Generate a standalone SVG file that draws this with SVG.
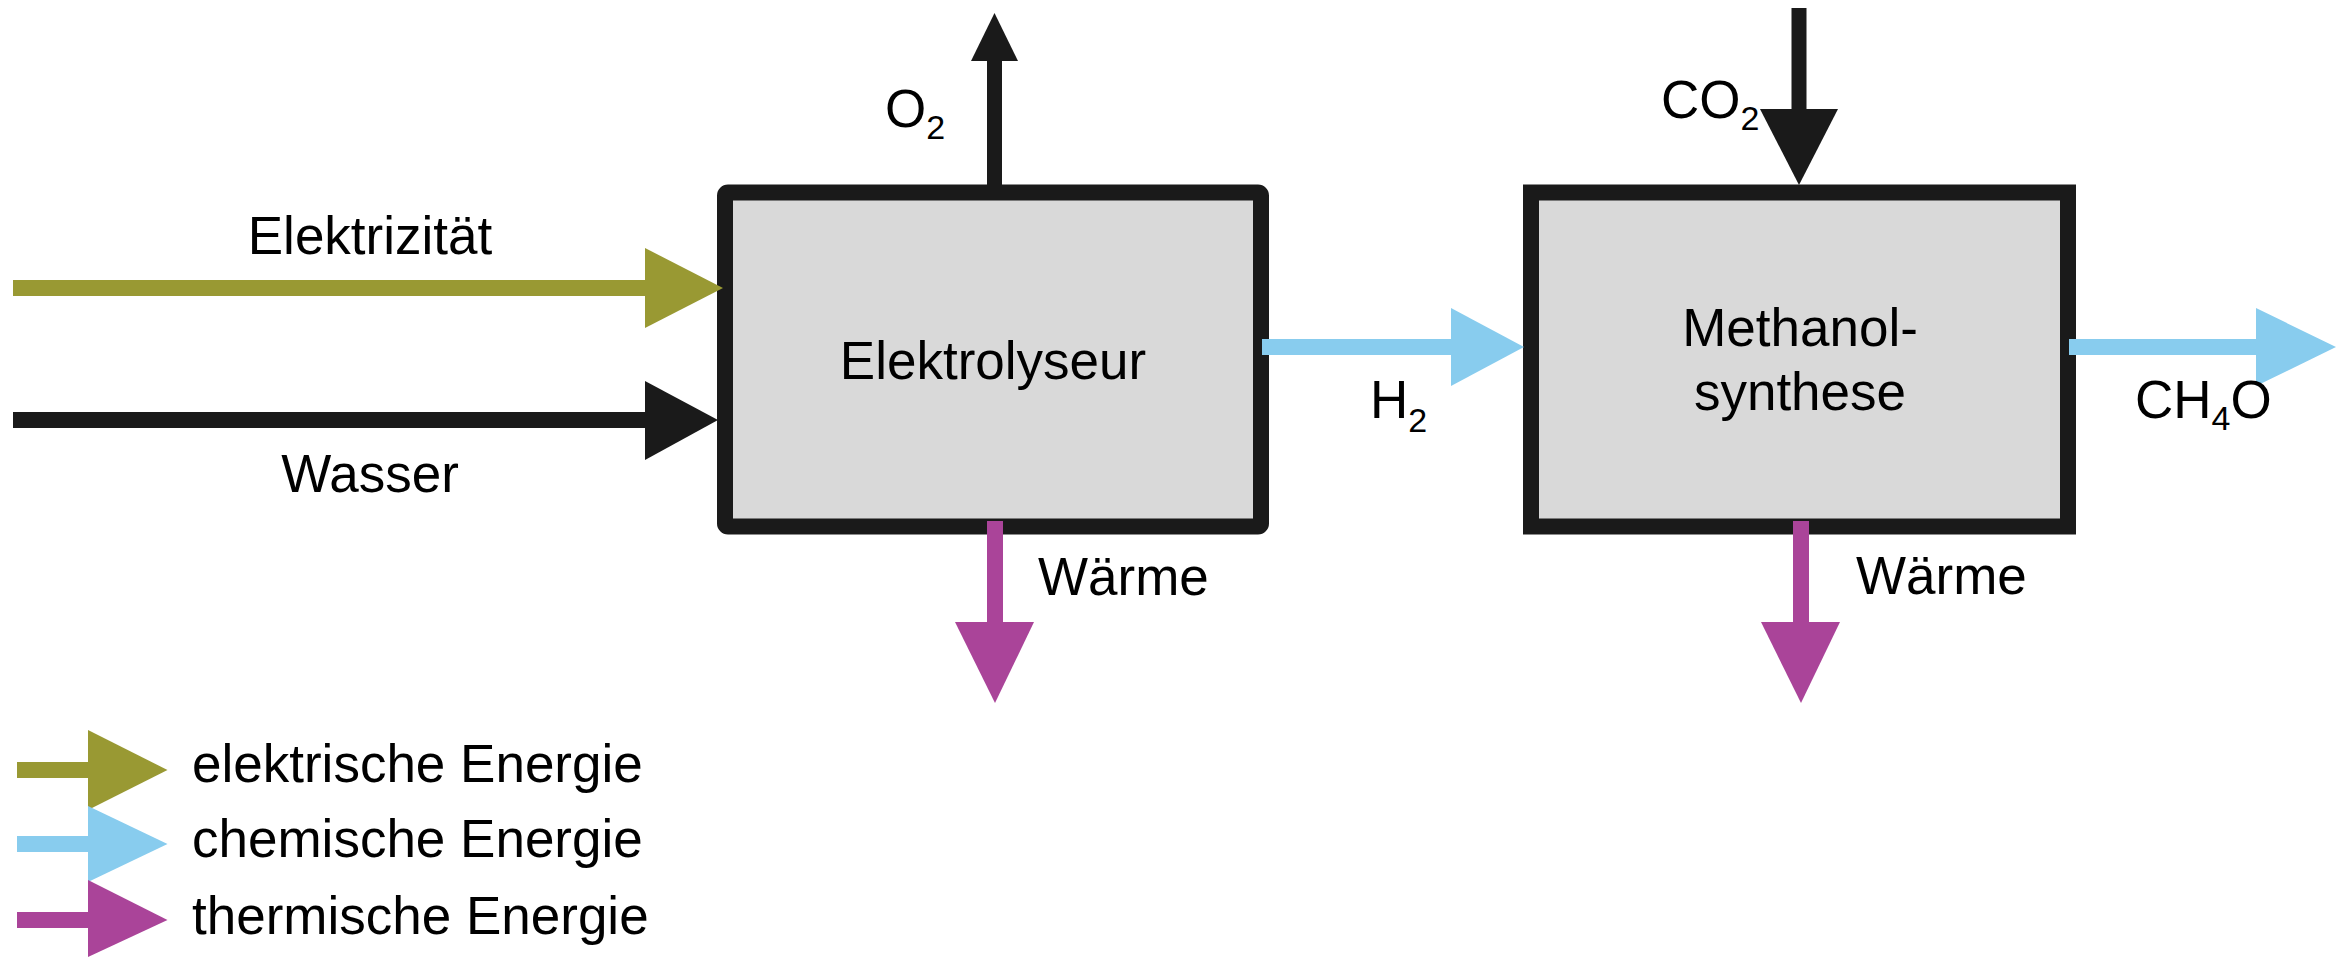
<svg xmlns="http://www.w3.org/2000/svg" width="2347" height="957" viewBox="0 0 2347 957">
<style>
text{font-family:"Liberation Sans",Arial,sans-serif;font-size:53px;fill:#000}
.sub{font-size:34px}
.mid{text-anchor:middle}
.box{fill:#d9d9d9;stroke:#1a1a1a;stroke-width:16}
.k{fill:#1a1a1a}
.el{fill:#999933}
.ch{fill:#88ccee}
.th{fill:#aa4499}
</style>
<rect width="2347" height="957" fill="#ffffff"/>
<g id="elektrolyseur">
<rect class="box" x="725" y="192.5" width="536" height="334" rx="3" stroke-linejoin="round"/>
<text class="mid" x="993" y="379">Elektrolyseur</text>
</g>
<g id="methanolsynthese">
<rect class="box" x="1531" y="192.5" width="537" height="334"/>
<text class="mid" x="1800" y="346">Methanol-</text>
<text class="mid" x="1800" y="410">synthese</text>
</g>
<g id="connectors">
<g id="elektrizitaet">
<rect class="el" x="13" y="280" width="633" height="16"/>
<polygon class="el" points="645,248 645,328 723,288"/>
<text class="mid" x="370" y="254">Elektrizität</text>
</g>
<g id="wasser">
<rect class="k" x="13" y="412" width="633" height="16"/>
<polygon class="k" points="645,381 645,460 718,420"/>
<text class="mid" x="370" y="492">Wasser</text>
</g>
<g id="o2">
<rect class="k" x="987" y="60" width="15" height="134"/>
<polygon class="k" points="971,61 1018,61 994.5,13"/>
<text x="885" y="127">O<tspan class="sub" dy="12">2</tspan></text>
</g>
<g id="co2">
<rect class="k" x="1791.5" y="8" width="15" height="102"/>
<polygon class="k" points="1760,109 1838,109 1799,185"/>
<text x="1661" y="118">CO<tspan class="sub" dy="12">2</tspan></text>
</g>
<g id="h2">
<rect class="ch" x="1262" y="339" width="190" height="16"/>
<polygon class="ch" points="1451,308 1451,386 1524,347"/>
<text x="1370" y="418">H<tspan class="sub" dy="14">2</tspan></text>
</g>
<g id="ch4o">
<rect class="ch" x="2069" y="339" width="188" height="16"/>
<polygon class="ch" points="2256,308 2256,386 2336,347"/>
<text x="2135" y="418">CH<tspan class="sub" dy="12">4</tspan><tspan dy="-12">O</tspan></text>
</g>
<g id="waerme1">
<rect class="th" x="987" y="521" width="16" height="102"/>
<polygon class="th" points="955,622 1034,622 995,703"/>
<text x="1038" y="595">Wärme</text>
</g>
<g id="waerme2">
<rect class="th" x="1793" y="521" width="16" height="102"/>
<polygon class="th" points="1761,622 1840,622 1801,703"/>
<text x="1856" y="594">Wärme</text>
</g>
</g>
<g id="legend">
<g id="legend-el">
<rect class="el" x="17" y="762" width="72" height="16"/>
<polygon class="el" points="88,730 88,810 167.5,770"/>
<text x="192" y="782">elektrische Energie</text>
</g>
<g id="legend-ch">
<rect class="ch" x="17" y="836" width="72" height="16"/>
<polygon class="ch" points="88,806 88,882 167.5,844"/>
<text x="192" y="857">chemische Energie</text>
</g>
<g id="legend-th">
<rect class="th" x="17" y="912" width="72" height="16"/>
<polygon class="th" points="88,880 88,957 167.5,920"/>
<text x="192" y="934">thermische Energie</text>
</g>
</g>
</svg>
